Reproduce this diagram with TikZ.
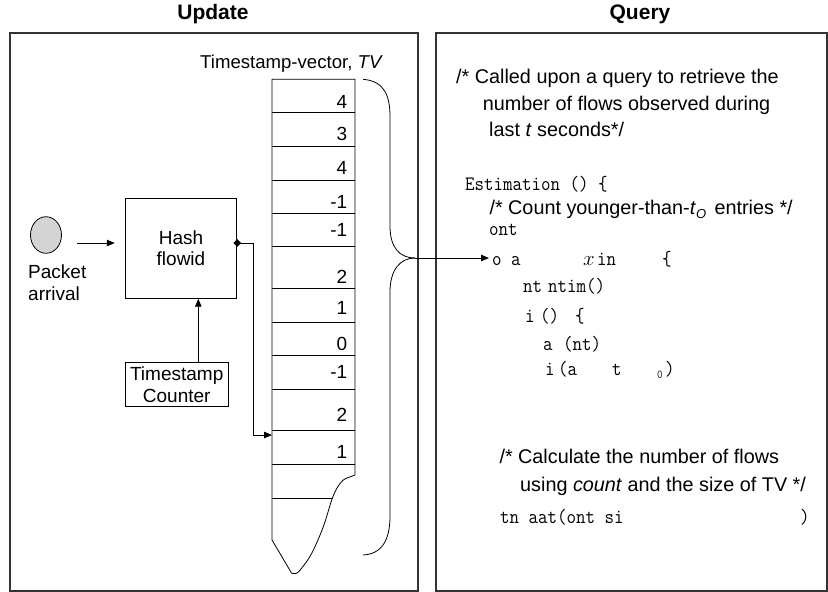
\documentclass[tikz,border=0pt]{standalone}
\usepackage{fontspec}
\setmainfont{Liberation Sans}
\newfontfamily\codefont{Latin Modern Mono}[FakeStretch=0.9]
\usetikzlibrary{arrows.meta,shapes.geometric}
\begin{document}
\begin{tikzpicture}[x=1pt,y=-1pt,
  frame/.style={draw=black!80, line width=1.1pt},
  ln/.style={line width=0.8pt},
  arr/.style={ln, -{Triangle[length=8pt,width=6.5pt]}},
  lbl/.style={font=\fontsize{19}{21.5}\selectfont, inner sep=0pt},
  boxnode/.style={draw, ln, align=center, inner sep=1pt, font=\fontsize{19}{21.5}\selectfont},
  title/.style={font=\fontsize{21}{24}\selectfont\bfseries, inner sep=0pt, anchor=base},
  code/.style={font=\fontsize{20.5}{22}\selectfont\codefont, inner sep=0pt, anchor=base west},
  cmt/.style={font=\fontsize{19.8}{21}\selectfont, inner sep=0pt, anchor=base west},
  num/.style={font=\fontsize{19}{20}\selectfont, inner sep=0pt, anchor=base east}]
\useasboundingbox (0,0) rectangle (828,592);

% frames and titles
\draw[frame] (10,33) rectangle (418,591);
\draw[frame] (436,33) rectangle (827,591);
\node[title] (tU) at (213,19) {Update};
\node[title] (tQ) at (640,19) {Query};

% update side
\node[ellipse, draw, ln, fill=black!17, minimum width=31pt, minimum height=36.6pt, inner sep=0pt] (pkt) at (46,235) {};
\node[lbl, align=left, anchor=west] (pktl) at (28,282.5) {Packet\\arrival};
\node[boxnode, minimum width=111.7pt, minimum height=100pt] (hash) at (181,248.3) {Hash\\flowid};
\node[boxnode, minimum width=103.3pt, minimum height=44pt] (cnt) at (176.7,384.7) {Timestamp\\Counter};
\node[diamond, fill, inner sep=0pt, minimum size=8pt] (dm) at (hash.east |- 0,243) {};

\coordinate (pa) at (77,243);
\draw[arr, shorten >=10pt] (pa) -- (pa -| hash.west);
\coordinate (ax) at (198.3,0);
\draw[arr] (cnt.north -| ax) -- (hash.south -| ax);
\coordinate (c1) at (253,243);
\coordinate (c2) at (253,435);
\coordinate (c3) at (272,435);
\draw[arr] (dm.center) -- (c1) -- (c2) -- (c3);

% timestamp vector
\node[lbl, anchor=base west, font=\fontsize{18.6}{20}\selectfont] (tvl) at (200,68) {Timestamp-vector, \textit{TV}};
\draw[ln] (355,475) -- (355,79.3) -- (272,79.3) -- (272,540) -- (291.5,573);
\draw[ln] plot[smooth, tension=0.6] coordinates {(291.5,573) (296,573.5) (301,569) (311.7,553.3) (323.3,526.7) (331.7,500) (337,488) (343.3,480) (349,477.3) (355,475)};
\foreach \yy in {112.7,146.7,180.7,213.3,246.7,288.3,322,355,389.3,430.7,464.3}
  \draw[ln] (272,\yy) -- (355,\yy);
\draw[ln] (272,498.3) -- (332,498.3);
\foreach \v/\yy [count=\i] in {4/108,3/140.5,4/174,-1/208,-1/236,2/283,1/314.5,0/350,-1/378,2/421.5,1/458}
  \node[num] (n\i) at (347.5,\yy) {\v};

% brace
\coordinate (bt) at (415,258);
\draw[ln] (363,79.3) .. controls (384,81) and (390,95) .. (390,117) -- (390,226) .. controls (390,248) and (400,258) .. (bt);
\draw[ln] (bt) .. controls (400,258) and (390,270) .. (390,292) -- (390,516) .. controls (390,540) and (382,554) .. (363,555);

% query side
\node[cmt] (q1) at (456,83) {/* Called upon a query to retrieve the};
\node[cmt] (q2) at (482.7,110) {number of flows observed during};
\node[cmt] (q3) at (489,136.5) {last \textit{t} seconds*/};
\node[code] (k1) at (465,190) {Estimation () \{};
\node[cmt] (q4) at (489.3,214.5) {/* Count younger-than-\textit{t}\raisebox{-4pt}{\fontsize{13}{13}\selectfont\textit{O}}\hspace{3pt} entries */};
\node[code] (k2) at (489,235) {ont};
\node[code] (k3a) at (492,265) {o a};
\node[code] (k3b) at (583,265) {$x$};
\node[code] (k3c) at (597,265) {in};
\node[code] (k3d) at (662,265) {\{};
\node[code] (k4a) at (523,292) {nt};
\node[code] (k4b) at (548,292) {ntim()};
\node[code] (k5a) at (525,322) {i};
\node[code] (k5b) at (540,322) {()};
\node[code] (k5c) at (575,322) {\{};
\node[code] (k6a) at (543,350) {a};
\node[code] (k6b) at (563,350) {(nt)};
\node[code] (k7a) at (545,375) {i};
\node[code] (k7b) at (558,375) {(a};
\node[code] (k7c) at (612,375) {t};
\node[code, font=\fontsize{12}{12}\selectfont\codefont] (k7d) at (657,378) {0};
\node[code] (k7e) at (665,375) {)};
\node[cmt] (q5) at (499.3,463) {/* Calculate the number of flows};
\node[cmt] (q6) at (520,491) {using \textit{count} and the size of TV */};
\node[code] (k8a) at (500,523) {tn aat(ont si};
\node[code] (k8b) at (800,523) {)};

\draw[arr, shorten >=3pt] (bt) -- (bt -| k3a.west);
\end{tikzpicture}
\end{document}
